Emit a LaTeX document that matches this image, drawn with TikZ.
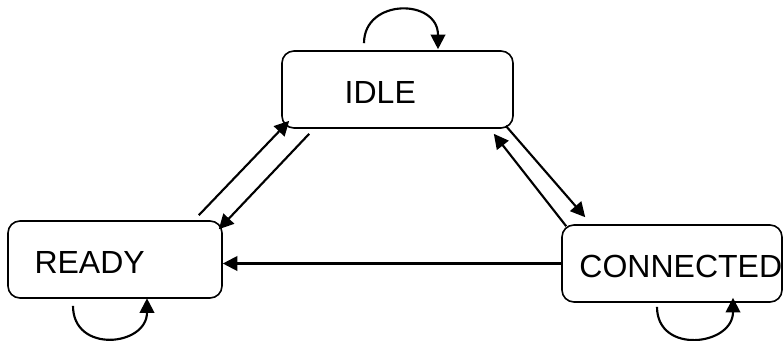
\documentclass[tikz,border=0pt]{standalone}
\usepackage{fontspec}
\setmainfont{Liberation Sans}
\usetikzlibrary{arrows.meta,calc}

\tikzset{
	state/.style={draw, line width=1.2pt, rounded corners=9pt, minimum height=57.75pt, inner sep=0pt},
	lbl/.style={font=\fontsize{24}{28}\selectfont, inner sep=0pt},
	trans/.style={line width=1.6pt, -{Triangle[length=11pt,width=11pt]}}
}

\begin{document}
\begin{tikzpicture}[x=0.75pt, y=-0.75pt]
	\useasboundingbox (0,0) rectangle (784,340);

	% States
	\node [state, minimum width=173.25pt, label={[lbl, xshift=-12.9pt, yshift=-1.9pt]center:IDLE}] (idle) at (397.5,89.5) {};
	\node [state, minimum width=160.5pt, label={[lbl, xshift=-19pt, yshift=-2.6pt]center:READY}] (ready) at (115,259.5) {};
	\node [state, minimum width=165pt, label={[lbl, xshift=6.6pt, yshift=-1.9pt]center:CONNECTED}] (conn) at (672,263.5) {};

	% Self loops
	\draw [trans] ($(idle.north)+(-33.5,-7)$) .. controls +(0,-45) and +(0,-51) .. ($(idle.north)+(40.5,-1)$);
	\draw [trans] ($(ready.south)+(-42,7)$) .. controls +(0,48) and +(0,48) .. ($(ready.south)+(32,-0.5)$);
	\draw [trans] ($(conn.south)+(-15,4)$) .. controls +(0,48) and +(0,48) .. ($(conn.south)+(61,-5)$);

	% Transitions between IDLE and READY
	\draw [trans] ($(ready.north east)+(-24,-5)$) -- ($(idle.south west)+(8,-8)$);
	\draw [trans] ($(idle.south west)+(28,5)$) -- ($(ready.north east)+(-4,9)$);

	% Transitions between IDLE and CONNECTED
	\draw [trans] ($(idle.south east)+(-8,-3)$) -- ($(conn.north west)+(24,-7)$);
	\draw [trans] ($(conn.north west)+(5,2)$) -- ($(idle.south east)+(-20,5)$);

	% CONNECTED back to READY
	\draw [trans] (conn.west) -- (ready.east |- conn.west);
\end{tikzpicture}
\end{document}
